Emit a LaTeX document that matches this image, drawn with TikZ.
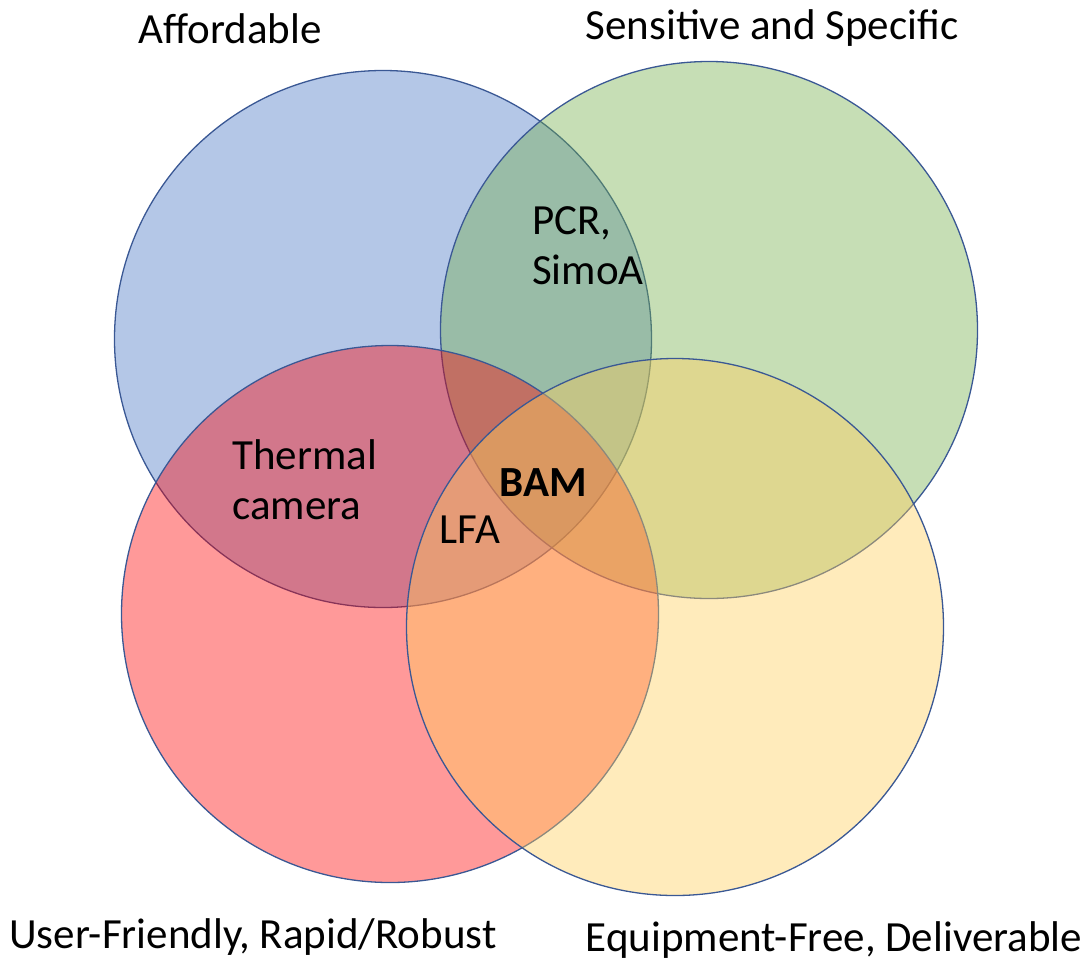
\documentclass[tikz,border=0pt]{standalone}
\usepackage{fontspec}
\setmainfont{Carlito}
\definecolor{cblue}{HTML}{4472C4}
\definecolor{cgreen}{HTML}{70AD47}
\definecolor{cred}{HTML}{FF0000}
\definecolor{cyellow}{HTML}{FFCF5D}
\definecolor{cline}{HTML}{3A5894}
\begin{document}
\begin{tikzpicture}
[x=1pt,y=-1pt, v/.style={circle,draw=cline,line width=1.3pt,fill opacity=.4,inner sep=0pt,minimum size=537pt},
t/.style={font=\fontsize{43}{50}\selectfont,inner sep=0pt,align=left}]
\useasboundingbox (0,0) rectangle (1091,962);
\node(a) at (383,339)[v,fill=cblue]{};\node(b) at (709,330)[v,fill=cgreen]{};
\node(c) at (390,614)[v,fill=cred]{};\node(d) at (675,627)[v,fill=cyellow,fill opacity=.42]{};
\node(la) at (230,29)[t]{Affordable};\node(lb) at (772,28)[t]{Sensitive and Specific};
\node(lc) at (253,937)[t]{User-Friendly, Rapid/Robust};\node(ld) at (834,940)[t]{Equipment-Free, Deliverable};
\node(ab) at (532,246)[t,anchor=west]{PCR,\\SimoA};\node(ac) at (232,480)[t,anchor=west]{Thermal\\camera};
\node(abcd) at (543,483)[t,font=\fontsize{43}{50}\selectfont\bfseries]{BAM};\node(acd) at (470,530)[t]{LFA};
\end{tikzpicture}
\end{document}
